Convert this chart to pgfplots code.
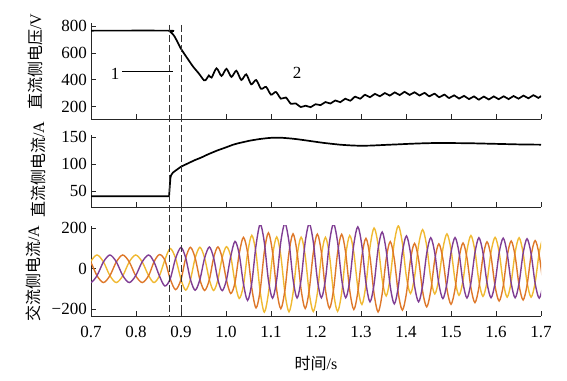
\documentclass[border=0pt]{standalone}
\usepackage{pgfplots}
\pgfplotsset{compat=1.18}
\usepackage{pgfplotstable}
\usepackage{fontspec}
\setmainfont{Liberation Serif}
\newfontfamily\cjk{Noto Sans CJK SC}
\definecolor{cO}{RGB}{222,120,42}
\definecolor{cY}{RGB}{240,185,50}
\definecolor{cP}{RGB}{128,62,148}

\pgfplotstableread{
t V
0.700 765
0.873 765
0.876 757
0.880 745
0.885 725
0.890 695
0.900 630
0.915 555
0.927 497
0.940 445
0.951 396
0.956 402
0.962 432
0.968 416
0.979 485
0.990 428
1.001 481
1.012 421
1.023 467
1.034 398
1.045 440
1.056 366
1.067 398
1.078 332
1.089 347
1.100 289
1.111 309
1.122 259
1.133 268
1.144 222
1.155 224
1.166 197
1.177 207
1.188 196
1.199 218
1.210 211
1.221 234
1.232 223
1.243 246
1.254 233
1.265 259
1.276 244
1.287 274
1.298 259
1.309 288
1.320 270
1.331 295
1.342 277
1.353 301
1.364 282
1.375 306
1.386 286
1.397 310
1.408 287
1.419 307
1.430 283
1.441 302
1.452 277
1.463 296
1.474 270
1.485 289
1.496 264
1.507 284
1.518 260
1.529 280
1.540 256
1.551 276
1.562 252
1.573 275
1.584 253
1.595 276
1.606 255
1.617 277
1.628 256
1.639 279
1.650 259
1.661 282
1.672 262
1.683 285
1.694 265
1.700 280
}\dcv

\pgfplotstableread{
t I
0.700 40
0.8735 40
0.8750 58
0.8765 74
0.8780 79
0.8820 84
0.8900 89
0.9000 95
0.9100 99
0.9200 103
0.9300 107
0.9420 111
0.9500 114
0.9600 118
0.9700 121.5
0.9800 125
0.9900 128
1.0000 131
1.0160 136
1.0280 138.8
1.0400 141
1.0500 143
1.0600 144.5
1.0750 146.5
1.0900 148
1.1000 148.7
1.1100 149
1.1200 149
1.1300 148.5
1.1450 147.4
1.1600 146
1.1770 144
1.1940 142
1.2070 140.4
1.2200 139
1.2370 137.4
1.2530 136
1.2660 135.2
1.2800 134.5
1.2930 134.1
1.3050 134
1.3220 134.3
1.3400 135
1.3600 135.8
1.3800 136.5
1.4000 137.3
1.4200 138
1.4400 138.6
1.4600 139
1.4800 139.1
1.5000 139
1.5250 138.8
1.5500 138.5
1.5750 138
1.6000 137.5
1.6250 137
1.6500 136.5
1.6750 136.2
1.7000 136
}\dci

\pgfplotstableread{
t P Y O
0.6703 34 -68 34
0.6847 -34 -34 68
0.6990 -68 34 34
0.7133 -34 68 -34
0.7277 34 34 -68
0.7420 68 -34 -34
0.7563 34 -68 34
0.7707 -34 -34 68
0.7850 -68 34 34
0.7993 -34 68 -34
0.8137 34 34 -68
0.8280 68 -34 -34
0.8400 34 -68 34
0.8520 -35 -35 70
0.8640 -85 43 43
0.8760 -50 100 -50
0.8880 51 51 -103
0.9000 105 -53 -53
0.9105 53 -105 53
0.9210 -53 -53 106
0.9315 -106 53 53
0.9420 -53 106 -53
0.9525 53 53 -107
0.9630 107 -54 -54
0.9725 54 -107 54
0.9820 -54 -54 108
0.9915 -108 54 54
1.0010 -55 109 -55
1.0105 61 61 -122
1.0200 135 -68 -68
1.0293 73 -146 73
1.0387 -73 -83 155
1.0480 -156 77 79
1.0573 -70 165 -95
1.0667 115 77 -193
1.0760 220 -114 -106
1.0852 129 -214 85
1.0943 -57 -120 177
1.1035 -145 65 81
1.1127 -53 157 -105
1.1218 133 65 -197
1.1310 224 -120 -104
1.1400 132 -212 80
1.1490 -52 -120 172
1.1580 -144 64 80
1.1670 -52 156 -104
1.1760 132 64 -196
1.1850 223 -120 -104
1.1940 132 -211 80
1.2030 -52 -120 171
1.2120 -143 64 80
1.2210 -52 155 -104
1.2300 132 64 -195
1.2390 222 -119 -103
1.2480 131 -210 79
1.2570 -51 -119 170
1.2660 -143 68 77
1.2750 -57 164 -108
1.2840 120 80 -201
1.2930 207 -93 -114
1.3020 113 -176 63
1.3110 -70 -79 150
1.3200 -163 107 58
1.3290 -77 201 -123
1.3380 98 119 -213
1.3470 181 -52 -125
1.3560 90 -134 49
1.3650 -87 -42 134
1.3740 -173 130 47
1.3830 -87 212 -123
1.3920 81 126 -204
1.4010 162 -41 -120
1.4100 77 -122 45
1.4190 -85 -40 125
1.4280 -163 117 45
1.4370 -82 193 -112
1.4460 76 112 -188
1.4550 153 -46 -108
1.4640 77 -124 46
1.4730 -74 -49 123
1.4820 -147 99 48
1.4910 -71 172 -101
1.5000 80 95 -175
1.5090 154 -56 -99
1.5178 80 -131 52
1.5267 -70 -58 127
1.5355 -144 90 53
1.5443 -69 164 -94
1.5532 79 88 -167
1.5620 153 -61 -92
1.5710 79 -136 57
1.5800 -69 -64 133
1.5890 -143 83 60
1.5980 -69 155 -87
1.6070 79 82 -159
1.6160 151 -66 -86
1.6248 77 -140 62
1.6337 -70 -66 137
1.6425 -143 80 63
1.6513 -71 153 -82
1.6602 75 79 -154
1.6690 148 -67 -81
1.6780 74 -140 66
1.6870 -72 -68 139
1.6960 -145 78 68
1.7050 -72 150 -77
1.7140 72 77 -150
}\ac

\pgfplotsset{
  panel/.style={
    scale only axis, width=450bp, anchor=south west,
    xmin=0.7, xmax=1.7,
    axis x line=bottom, axis y line=left,
    axis line style={-, line width=0.7bp, black!85},
    tick align=inside, major tick length=4.5bp,
    tick style={line width=0.6bp, black!85},
    xtick={0.7,0.8,0.9,1.0,1.1,1.2,1.3,1.4,1.5,1.6,1.7},
    /pgf/number format/assume math mode=true,
    ticklabel style={font=\fontsize{17bp}{19bp}\selectfont},
    yticklabel style={inner sep=0pt, xshift=-4bp},
    xticklabel style={inner sep=0pt, yshift=-10bp},
  }
}

\begin{document}
\begin{tikzpicture}
\path[use as bounding box] (0,0) rectangle (567bp,381bp);

% top panel: DC voltage
\begin{axis}[panel, at={(91bp,262bp)}, height=96bp,
  ymin=108, ymax=822, ytick={200,400,600,800}, xticklabels={}]
  \addplot[black, line width=1.7bp, smooth, tension=0.45] table[x=t,y=V] {\dcv};
\end{axis}

% middle panel: DC current
\begin{axis}[panel, at={(91bp,174bp)}, height=72bp,
  ymin=20, ymax=154, ytick={50,100,150}, xticklabels={}]
  \addplot[black, line width=1.7bp, line join=round] table[x=t,y=I] {\dci};
\end{axis}

% bottom panel: AC current
\begin{axis}[panel, at={(91bp,65bp)}, height=90bp,
  ymin=-233, ymax=211, ytick={-200,0,200}, yticklabels={−200,0,200},
  xticklabels={0.7,0.8,0.9,1.0,1.1,1.2,1.3,1.4,1.5,1.6,1.7}]
  \addplot[cY, line width=1.4bp, smooth] table[x=t,y=Y] {\ac};
  \addplot[cO, line width=1.4bp, smooth] table[x=t,y=O] {\ac};
  \addplot[cP, line width=1.4bp, smooth] table[x=t,y=P] {\ac};
\end{axis}

% dashed reference lines
\draw[black!80, line width=0.8bp, dash pattern=on 7bp off 3bp] (168.9bp,356bp) -- (168.9bp,65bp);
\draw[black!80, line width=0.8bp, dash pattern=on 7bp off 3bp] (181bp,356bp) -- (181bp,65bp);

% annotations
\node[font=\fontsize{17bp}{19bp}\selectfont] at (115bp,307bp) {1};
\draw[black, line width=0.6bp] (122bp,310bp) -- (173bp,310bp);
\node[font=\fontsize{17bp}{19bp}\selectfont] at (297bp,308.5bp) {2};

% axis labels
\node[rotate=90, font=\fontsize{16bp}{18bp}\selectfont] at (35bp,319bp) {{\cjk 直流侧电压}/V};
\node[rotate=90, font=\fontsize{16bp}{18bp}\selectfont] at (38bp,211bp) {{\cjk 直流侧电流}/A};
\node[rotate=90, font=\fontsize{16bp}{18bp}\selectfont] at (33bp,107bp) {{\cjk 交流侧电流}/A};
\node[font=\fontsize{16bp}{18bp}\selectfont] at (316bp,18bp) {{\cjk 时间}/s};
\end{tikzpicture}
\end{document}
